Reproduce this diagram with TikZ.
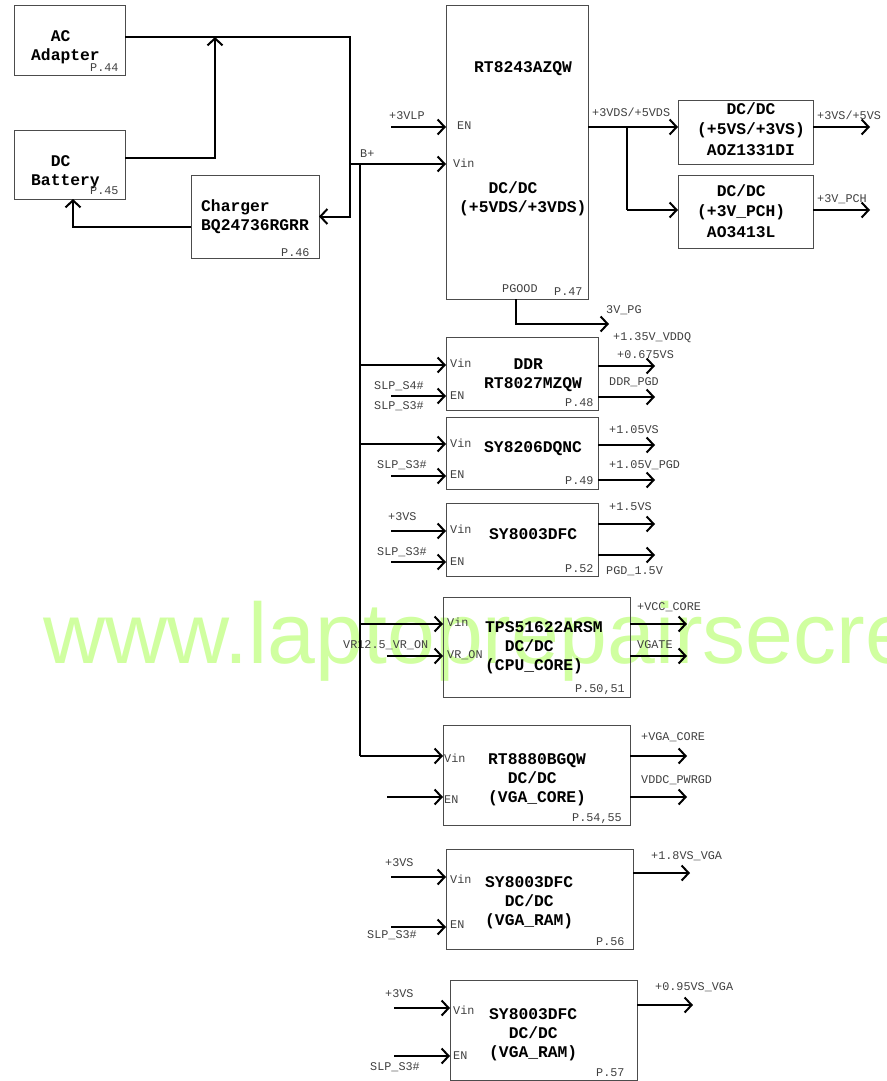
\documentclass[tikz,border=0pt]{standalone}
\usepackage{fontspec}
\setmainfont{Liberation Mono}
\newfontfamily\markfont{Liberation Sans}
\usepackage{xcolor}
\usepackage{tikz}
\usetikzlibrary{arrows.meta,positioning}
\definecolor{markgreen}{HTML}{D0FFA0}

\begin{document}
\begin{tikzpicture}[
    x=1pt, y=-1pt,
    box/.style={draw=black!70, line width=1pt, outer sep=0pt, inner sep=0pt, anchor=north west},
    title/.style={anchor=west, align=left, inner sep=0pt, font=\fontsize{16.3}{19}\selectfont\bfseries},
    tag/.style={anchor=west, inner sep=0pt, text=black!75, text height=8pt, text depth=2pt, font=\fontsize{11.8}{13}\selectfont},
    wire/.style={line width=2pt},
    arrow/.style={line width=2pt, -{Straight Barb[length=7pt,width=15pt]}}
]
\useasboundingbox (0,0) rectangle (886,1081);
\node[anchor=base west, inner sep=0pt, text=markgreen, font=\fontsize{86}{86}\selectfont\markfont] (mark) at (43,663) {www.laptoprepairsecre};

% left side
\node[box, minimum width=111pt, minimum height=69pt] (ac) at (14,6) {};
\node[box, minimum width=111pt, minimum height=69pt, below=55pt of ac.south west, anchor=north west] (dc) {};
\node[box, minimum width=128pt, minimum height=83pt] (charger) at (191,175) {};

% main regulator and its two switches
\node[box, minimum width=142pt, minimum height=293pt] (rt) at (446,6) {};
\node[box, minimum width=135pt, minimum height=64pt] (sw1) at (678,100) {};
\node[box, minimum width=135pt, minimum height=73pt, below=11pt of sw1.south west, anchor=north west] (sw2) {};

% regulators below
\node[box, minimum width=152pt, minimum height=73pt, below=38pt of rt.south west, anchor=north west] (ddr) {};
\node[box, minimum width=152pt, minimum height=72pt, below=7pt of ddr.south west, anchor=north west] (sy1) {};
\node[box, minimum width=152pt, minimum height=73pt, below=14pt of sy1.south west, anchor=north west] (sy2) {};
\node[box, minimum width=187pt, minimum height=100pt] (tps) at (443,597) {};
\node[box, minimum width=187pt, minimum height=100pt, below=28pt of tps.south west, anchor=north west] (vcore) {};
\node[box, minimum width=187pt, minimum height=100pt] (vram1) at (446,849) {};
\node[box, minimum width=187pt, minimum height=100pt] (vram2) at (450,980) {};

% titles
\node[title] (tac) at (31,47) {~~AC\\Adapter};
\node[title] (tdc) at (31,172) {~~DC\\Battery};
\node[title] (tcharger) at (201,217) {Charger\\BQ24736RGRR};
\node[title] (trt) at (474,69) {RT8243AZQW};
\node[title] (trt2) at (459,199) {~~~DC/DC\\(+5VDS/+3VDS)};
\node[title] (tsw1) at (697,129) {~~~DC/DC\\[1.5pt](+5VS/+3VS)\\[1.5pt]~AOZ1331DI};
\node[title] (tsw2) at (697,211) {~~DC/DC\\[1.5pt](+3V\_PCH)\\[1.5pt]~AO3413L};
\node[title] (tddr) at (484,375) {~~~DDR\\RT8027MZQW};
\node[title] (tsy1) at (484,449) {SY8206DQNC};
\node[title] (tsy2) at (489,534) {SY8003DFC};
\node[title] (ttps) at (485,648) {TPS51622ARSM\\~~DC/DC\\(CPU\_CORE)};
\node[title] (tvcore) at (488,780) {RT8880BGQW\\~~DC/DC\\(VGA\_CORE)};
\node[title] (tvram1) at (485,903) {SY8003DFC\\~~DC/DC\\(VGA\_RAM)};
\node[title] (tvram2) at (489,1035) {SY8003DFC\\~~DC/DC\\(VGA\_RAM)};

% page numbers
\node[tag] (p44) at (90,68) {P.44};
\node[tag] (p45) at (90,191) {P.45};
\node[tag] (p46) at (281,253) {P.46};
\node[tag] (p47) at (554,292) {P.47};
\node[tag] (p48) at (565,403) {P.48};
\node[tag] (p49) at (565,481) {P.49};
\node[tag] (p52) at (565,569) {P.52};
\node[tag] (p50) at (575,689) {P.50,51};
\node[tag] (p54) at (572,818) {P.54,55};
\node[tag] (p56) at (596,942) {P.56};
\node[tag] (p57) at (596,1073) {P.57};

% signal names
\node[tag] (l3vlp) at (389,116) {+3VLP};
\node[tag] (lbplus) at (360,154) {B+};
\node[tag] (lrten) at (457,126) {EN};
\node[tag] (lrtvin) at (453,164) {Vin};
\node[tag] (lpgood) at (502,289) {PGOOD};
\node[tag] (lpg) at (606,310) {3V\_PG};
\node[tag] (lvds) at (592,113) {+3VDS/+5VDS};
\node[tag] (lvs) at (817,116) {+3VS/+5VS};
\node[tag] (lpch) at (817,199) {+3V\_PCH};
\node[tag] (lvddq) at (613,337) {+1.35V\_VDDQ};
\node[tag] (l0675) at (617,355) {+0.675VS};
\node[tag] (lddrpgd) at (609,382) {DDR\_PGD};
\node[tag] (lddrvin) at (450,364) {Vin};
\node[tag] (lddren) at (450,396) {EN};
\node[tag] (ls4) at (374,386) {SLP\_S4\#};
\node[tag] (ls3a) at (374,406) {SLP\_S3\#};
\node[tag] (lsy1vin) at (450,444) {Vin};
\node[tag] (lsy1en) at (450,475) {EN};
\node[tag] (ls3b) at (377,465) {SLP\_S3\#};
\node[tag] (l105) at (609,430) {+1.05VS};
\node[tag] (l105pgd) at (609,465) {+1.05V\_PGD};
\node[tag] (lsy2vin) at (450,530) {Vin};
\node[tag] (lsy2en) at (450,562) {EN};
\node[tag] (l3vsa) at (388,517) {+3VS};
\node[tag] (ls3c) at (377,552) {SLP\_S3\#};
\node[tag] (l15) at (609,507) {+1.5VS};
\node[tag] (lpgd15) at (606,571) {PGD\_1.5V};
\node[tag] (ltpsvin) at (447,623) {Vin};
\node[tag] (ltpson) at (447,655) {VR\_ON};
\node[tag] (lvr) at (343,645) {VR12.5\_VR\_ON};
\node[tag] (lvcc) at (637,607) {+VCC\_CORE};
\node[tag] (lvgate) at (637,645) {VGATE};
\node[tag] (lvcvin) at (444,759) {Vin};
\node[tag] (lvcen) at (444,800) {EN};
\node[tag] (lvga) at (641,737) {+VGA\_CORE};
\node[tag] (lvddc) at (641,780) {VDDC\_PWRGD};
\node[tag] (lr1vin) at (450,880) {Vin};
\node[tag] (lr1en) at (450,925) {EN};
\node[tag] (l3vsb) at (385,863) {+3VS};
\node[tag] (ls3d) at (367,935) {SLP\_S3\#};
\node[tag] (l18) at (651,856) {+1.8VS\_VGA};
\node[tag] (lr2vin) at (453,1011) {Vin};
\node[tag] (lr2en) at (453,1056) {EN};
\node[tag] (l3vsc) at (385,994) {+3VS};
\node[tag] (ls3e) at (370,1067) {SLP\_S3\#};
\node[tag] (l095) at (655,987) {+0.95VS\_VGA};

% turns and free ends
\coordinate (acturn) at (350,37);
\coordinate (dcturn) at (215,158);
\coordinate (chgturn) at (73,227);
\coordinate (bplus) at (350,164);
\coordinate (bus) at (360,164);
\coordinate (vlp) at (391,127);
\coordinate (vdsout) at (627,127);
\coordinate (vdsturn) at (627,210);
\coordinate (vsout) at (870,127);
\coordinate (pchout) at (870,210);
\coordinate (pgturn) at (516,324);
\coordinate (pgout) at (609,324);
\coordinate (ddrvin) at (360,365);
\coordinate (ddren) at (391,396);
\coordinate (ddrout) at (655,366);
\coordinate (ddrpg) at (655,397);
\coordinate (sy1vin) at (360,444);
\coordinate (sy1en) at (391,476);
\coordinate (sy1out) at (655,445);
\coordinate (sy1pg) at (655,480);
\coordinate (sy2vin) at (391,531);
\coordinate (sy2en) at (391,562);
\coordinate (sy2out) at (655,524);
\coordinate (sy2pg) at (655,555);
\coordinate (tpsvin) at (360,624);
\coordinate (tpson) at (387,656);
\coordinate (tpsout) at (687,624);
\coordinate (tpspg) at (687,656);
\coordinate (vcvin) at (360,756);
\coordinate (vcen) at (387,797);
\coordinate (vcout) at (687,756);
\coordinate (vcpg) at (687,797);
\coordinate (r1vin) at (391,877);
\coordinate (r1en) at (391,927);
\coordinate (r1out) at (690,873);
\coordinate (r2vin) at (394,1008);
\coordinate (r2en) at (394,1056);
\coordinate (r2out) at (693,1005);

% connectors
\draw[arrow] (acturn -| ac.east) -- (acturn) |- (charger.east);
\draw[arrow] (dcturn -| dc.east) -- (dcturn) -- (dcturn |- acturn);
\draw[arrow] (chgturn -| charger.west) -- (chgturn) -- (chgturn |- dc.south);
\draw[arrow] (bplus) -- (bplus -| rt.west);
\draw[wire] (bus) -- (vcvin);
\draw[arrow] (vlp) -- (vlp -| rt.west);
\draw[arrow] (vdsout -| rt.east) -- (vdsout -| sw1.west);
\draw[wire] (vdsout) -- (vdsturn);
\draw[arrow] (vdsturn) -- (vdsturn -| sw2.west);
\draw[arrow] (vsout -| sw1.east) -- (vsout);
\draw[arrow] (pchout -| sw2.east) -- (pchout);
\draw[arrow] (pgturn |- rt.south) -- (pgturn) -- (pgout);
\draw[arrow] (ddrvin) -- (ddrvin -| ddr.west);
\draw[arrow] (ddren) -- (ddren -| ddr.west);
\draw[arrow] (ddrout -| ddr.east) -- (ddrout);
\draw[arrow] (ddrpg -| ddr.east) -- (ddrpg);
\draw[arrow] (sy1vin) -- (sy1vin -| sy1.west);
\draw[arrow] (sy1en) -- (sy1en -| sy1.west);
\draw[arrow] (sy1out -| sy1.east) -- (sy1out);
\draw[arrow] (sy1pg -| sy1.east) -- (sy1pg);
\draw[arrow] (sy2vin) -- (sy2vin -| sy2.west);
\draw[arrow] (sy2en) -- (sy2en -| sy2.west);
\draw[arrow] (sy2out -| sy2.east) -- (sy2out);
\draw[arrow] (sy2pg -| sy2.east) -- (sy2pg);
\draw[arrow] (tpsvin) -- (tpsvin -| tps.west);
\draw[arrow] (tpson) -- (tpson -| tps.west);
\draw[arrow] (tpsout -| tps.east) -- (tpsout);
\draw[arrow] (tpspg -| tps.east) -- (tpspg);
\draw[arrow] (vcvin) -- (vcvin -| vcore.west);
\draw[arrow] (vcen) -- (vcen -| vcore.west);
\draw[arrow] (vcout -| vcore.east) -- (vcout);
\draw[arrow] (vcpg -| vcore.east) -- (vcpg);
\draw[arrow] (r1vin) -- (r1vin -| vram1.west);
\draw[arrow] (r1en) -- (r1en -| vram1.west);
\draw[arrow] (r1out -| vram1.east) -- (r1out);
\draw[arrow] (r2vin) -- (r2vin -| vram2.west);
\draw[arrow] (r2en) -- (r2en -| vram2.west);
\draw[arrow] (r2out -| vram2.east) -- (r2out);
\end{tikzpicture}
\end{document}
